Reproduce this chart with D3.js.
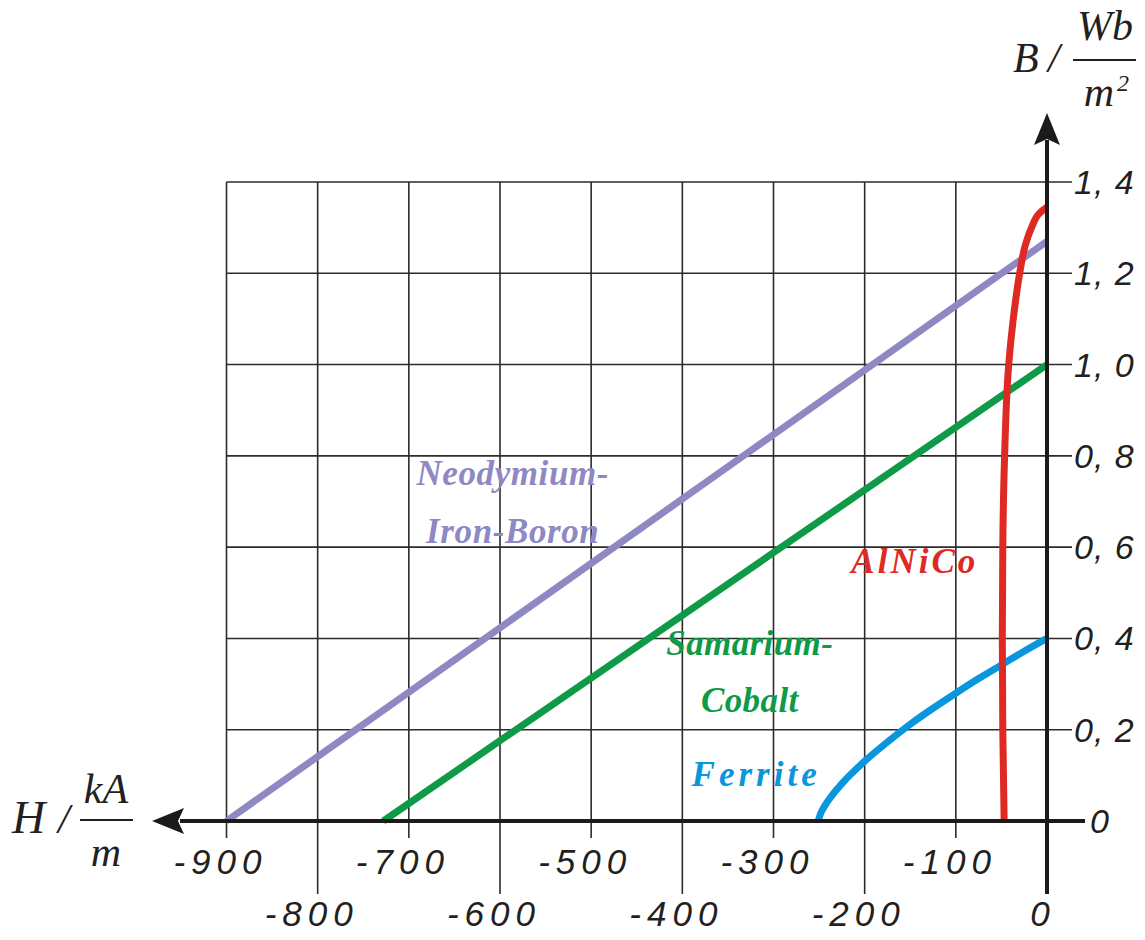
<!DOCTYPE html>
<html>
<head>
<meta charset="utf-8">
<script src="https://cdn.jsdelivr.net/npm/d3@7"></script>
<style>
  body { margin: 0; background: #fff; }
  svg { display: block; }
</style>
</head>
<body>
<div id="chart"></div>
<script>
// demagnetisation curves, H in kA/m, B in Wb/m^2
var hTicks = [-900, -800, -700, -600, -500, -400, -300, -200, -100, 0];
var bTicks = [0, 0.2, 0.4, 0.6, 0.8, 1.0, 1.2, 1.4];
var bTickLabels = ["0", "0, 2", "0, 4", "0, 6", "0, 8", "1, 0", "1, 2", "1, 4"];

var neodymium = [[-900, 0], [0, 1.27]];
var samarium = [[-728, 0], [0, 1.0]];
var ferrite = [[-251, 0], [-248, 0.018], [-245, 0.029], [-240, 0.045], [-225, 0.082],
               [-200, 0.131], [-175, 0.173], [-150, 0.212], [-125, 0.247], [-100, 0.28],
               [-75, 0.312], [-50, 0.342], [-25, 0.372], [0, 0.4]];
var alnico = [[-47, 0], [-48.5, 0.2], [-49, 0.4], [-48.5, 0.6], [-46.5, 0.8], [-42, 1.0],
              [-37, 1.1], [-30, 1.2], [-24, 1.26], [-17, 1.3], [-8, 1.332], [0, 1.345]];

var series = [
  { name: "neodymium", pts: neodymium, color: "#8f89c3", curve: d3.curveLinear },
  { name: "samarium", pts: samarium, color: "#0f9a48", curve: d3.curveLinear },
  { name: "ferrite", pts: ferrite, color: "#0a96dd", curve: d3.curveCatmullRom.alpha(0.5) },
  { name: "alnico", pts: alnico, color: "#de2a22", curve: d3.curveMonotoneY }
];

// labels anchored in data units (centre of text, baseline)
var labels = [
  { lines: ["Neodymium-", "Iron-Boron"], h: -586, b: [0.736, 0.609], color: "#8f89c3", spacing: 0.6 },
  { lines: ["Samarium-", "Cobalt"], h: -326, b: [0.364, 0.239], color: "#0f9a48", spacing: 0.4 },
  { lines: ["AlNiCo"], h: -145, b: [0.543], color: "#de2a22", spacing: 3 },
  { lines: ["Ferrite"], h: -319, b: [0.077], color: "#0a96dd", spacing: 4 }
];

var width = 1145, height = 940;
var svg = d3.select("#chart").append("svg")
    .attr("width", width)
    .attr("height", height);

var xscale = d3.scaleLinear().domain([-900, 0]).range([226.5, 1047]);
var yscale = d3.scaleLinear().domain([0, 1.4]).range([821, 182]);

var gridColor = "#2e2a2b";
var axisColor = "#1d1a1b";

// vertical grid lines, with alternating tick extension below axis
svg.selectAll(".vgrid").data(hTicks.filter(function(d){ return d !== 0; }))
  .enter().append("line")
    .attr("class", "vgrid")
    .attr("x1", function(d){ return xscale(d); })
    .attr("x2", function(d){ return xscale(d); })
    .attr("y1", yscale(1.4))
    .attr("y2", function(d,i){ return i % 2 === 0 ? 838 : 894; })
    .attr("stroke", gridColor)
    .attr("stroke-width", 1.6);

// horizontal grid lines
svg.selectAll(".hgrid").data(bTicks.filter(function(d){ return d !== 0; }))
  .enter().append("line")
    .attr("class", "hgrid")
    .attr("x1", xscale(-900))
    .attr("x2", xscale(0) + 25)
    .attr("y1", function(d){ return yscale(d); })
    .attr("y2", function(d){ return yscale(d); })
    .attr("stroke", gridColor)
    .attr("stroke-width", 1.6);

// curves
var line = d3.line()
  .x(function(d){ return xscale(d[0]); })
  .y(function(d){ return yscale(d[1]); });

svg.selectAll(".curve").data(series)
  .enter().append("path")
    .attr("class", "curve")
    .attr("d", function(s){ return line.curve(s.curve)(s.pts); })
    .attr("fill", "none")
    .attr("stroke", function(s){ return s.color; })
    .attr("stroke-width", 7);

// axes
svg.append("line")
  .attr("x1", xscale(0) + 38).attr("x2", 180)
  .attr("y1", yscale(0)).attr("y2", yscale(0))
  .attr("stroke", axisColor).attr("stroke-width", 4);
svg.append("path")
  .attr("d", "M152," + yscale(0) + " L184," + (yscale(0) - 13) + " L178," + yscale(0) + " L184," + (yscale(0) + 13) + " Z")
  .attr("fill", axisColor);

svg.append("line")
  .attr("x1", xscale(0)).attr("x2", xscale(0))
  .attr("y1", 894).attr("y2", 140)
  .attr("stroke", axisColor).attr("stroke-width", 4);
svg.append("path")
  .attr("d", "M" + xscale(0) + ",113 L" + (xscale(0) - 13) + ",145 L" + xscale(0) + ",139 L" + (xscale(0) + 13) + ",145 Z")
  .attr("fill", axisColor);

// x tick labels
svg.selectAll(".xlab").data(hTicks)
  .enter().append("text")
    .attr("class", "xlab")
    .attr("x", function(d){ return xscale(d) - (d === 0 ? 4 : 6); })
    .attr("y", function(d,i){ return i % 2 === 0 ? 874 : 926; })
    .attr("text-anchor", "middle")
    .attr("font-family", "'Liberation Sans', Arial, sans-serif")
    .attr("font-style", "italic")
    .attr("font-size", 35)
    .attr("letter-spacing", 6)
    .attr("fill", "#231f20")
    .text(function(d){ return d === 0 ? "0" : String(d); });

// y tick labels
svg.selectAll(".ylab").data(bTicks)
  .enter().append("text")
    .attr("class", "ylab")
    .attr("x", function(d){ return d === 0 ? xscale(0) + 43 : xscale(0) + 27; })
    .attr("y", function(d){ return yscale(d) + 12; })
    .attr("font-family", "'Liberation Sans', Arial, sans-serif")
    .attr("font-style", "italic")
    .attr("font-size", 34)
    .attr("letter-spacing", 1)
    .attr("fill", "#231f20")
    .text(function(d,i){ return bTickLabels[i]; });

// axis titles
var serif = "'Liberation Serif', 'Times New Roman', serif";
function title(x, y, size, txt, anchor){
  return svg.append("text")
    .attr("x", x).attr("y", y)
    .attr("font-family", serif)
    .attr("font-style", "italic")
    .attr("font-size", size)
    .attr("text-anchor", anchor || "start")
    .attr("fill", "#231f20")
    .text(txt);
}

title(12, 833, 46, "H");
title(58, 833, 42, "/");
title(106, 803, 42, "kA", "middle");
svg.append("line").attr("x1", 80).attr("x2", 133).attr("y1", 820).attr("y2", 820)
  .attr("stroke", "#231f20").attr("stroke-width", 2);
title(106, 866, 42, "m", "middle");

title(1013, 72, 42, "B");
title(1048, 72, 42, "/");
title(1105, 40, 42, "Wb", "middle");
svg.append("line").attr("x1", 1073).attr("x2", 1136).attr("y1", 60).attr("y2", 60)
  .attr("stroke", "#231f20").attr("stroke-width", 2);
title(1099, 106, 42, "m", "middle");
title(1117, 91, 24, "2");

// curve labels
labels.forEach(function(l){
  l.lines.forEach(function(t, k){
    svg.append("text")
      .attr("x", xscale(l.h))
      .attr("y", yscale(l.b[k]))
      .attr("text-anchor", "middle")
      .attr("font-family", serif)
      .attr("font-style", "italic")
      .attr("font-weight", "bold")
      .attr("font-size", 35)
      .attr("letter-spacing", l.spacing)
      .attr("fill", l.color)
      .text(t);
  });
});
</script>
</body>
</html>
